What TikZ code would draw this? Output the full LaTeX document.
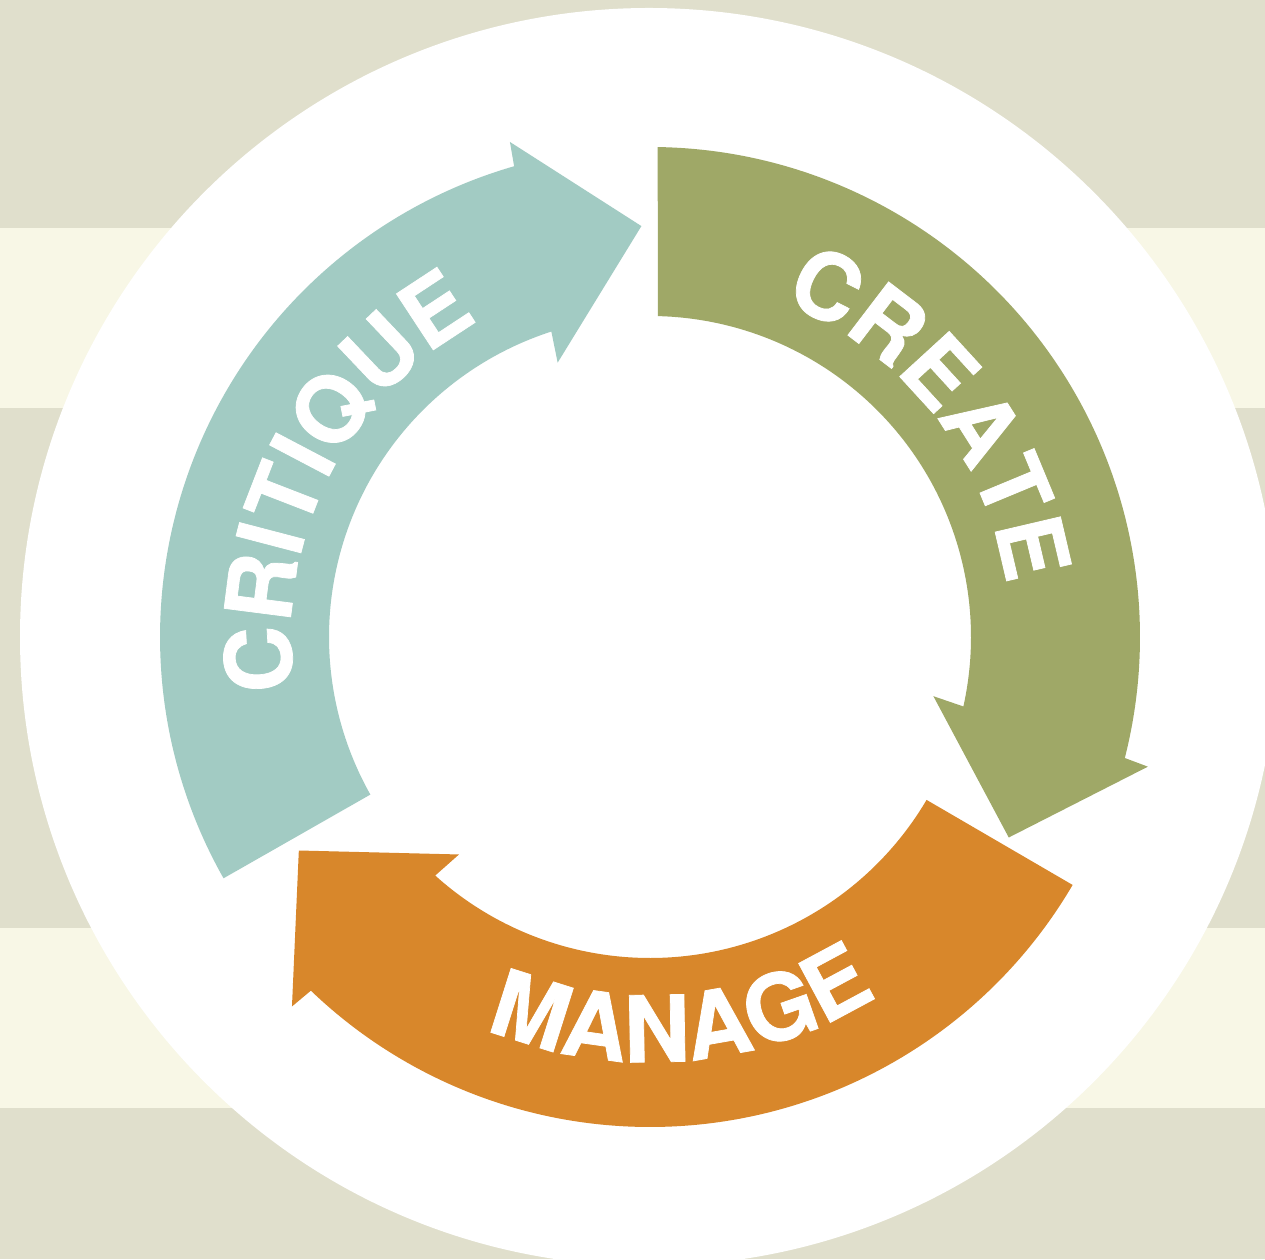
\documentclass[tikz,border=0pt]{standalone}
\usepackage{fontspec}
\setmainfont{TeX Gyre Heros}
\newfontfamily\lblfam{TeX Gyre Heros}[BoldFeatures={FakeBold=0.8}]
\usetikzlibrary{decorations.text}
\definecolor{bgdark}{HTML}{E0DFCC}
\definecolor{bglight}{HTML}{F8F7E6}
\definecolor{critcol}{HTML}{A2CBC3}
\definecolor{createcol}{HTML}{9FA867}
\definecolor{managecol}{HTML}{D8872B}
\newcommand\lblfont{\lblfam\fontsize{92}{92}\selectfont\bfseries}
% #1 outer start angle, #2 inner start angle, #3 colour
\newcommand\cyclearrow[3]{%
  \fill[#3] (#1:490) arc[start angle=#1, end angle={#1-103.4}, radius=490]
    -- ({#1-103.7}:514.5) -- ({#1-118.3}:411) -- ({#1-100.9}:289.5)
    -- ({#1-101.6}:321) arc[start angle={#1-101.6}, end angle=#2, radius=321] -- cycle;}
\tikzset{
  arclabel/.style={decorate, decoration={text along path, text align=center, text color=white, text={|\lblfont|#1}}}
}
\begin{document}
\begin{tikzpicture}[x=1pt,y=1pt]
\clip (0,0) rectangle (1265,1259);
\fill[bgdark] (0,0) rectangle (1265,1259);
\fill[bglight] (0,851) rectangle (1265,1031);
\fill[bglight] (0,151) rectangle (1265,331);
\fill[white] (649,622) circle[radius=629];
\begin{scope}[shift={(650,622)}]
  \cyclearrow{209.5}{209.4}{critcol}
  \cyclearrow{89.1}{88.6}{createcol}
  \cyclearrow{329.6}{329.5}{managecol}
  \path[arclabel=CRITIQUE] (204.5:359) arc[start angle=204.5, end angle=102.5, radius=359];
  \path[arclabel=CREATE] (88.4:360) arc[start angle=88.4, end angle=-11.6, radius=360];
  \path[arclabel=MANAGE] (224.8:425) arc[start angle=224.8, end angle=324.8, radius=425];
\end{scope}
\end{tikzpicture}
\end{document}
